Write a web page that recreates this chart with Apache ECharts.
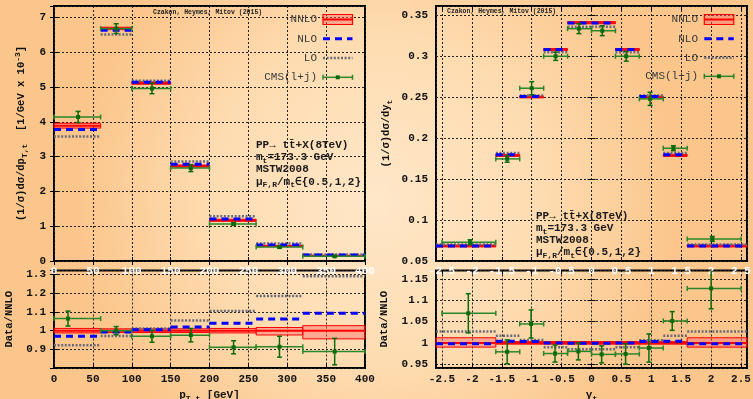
<!DOCTYPE html>
<html><head><meta charset="utf-8">
<script src="https://cdn.jsdelivr.net/npm/echarts@6/dist/echarts.min.js"></script>
<style>html,body{margin:0;padding:0;background:#fddcb0;} #c{width:753px;height:399px;}</style>
</head><body><div id="c"></div>
<script>
// ---------- pT panel (top-left) ----------
const ptEdges = [0, 60, 100, 150, 200, 260, 320, 400];
const ptTicks = [0, 50, 100, 150, 200, 250, 300, 350, 400];
const ptNnlo = [3.89, 6.69, 5.12, 2.73, 1.17, 0.43, 0.153];
const ptNnloLo = [3.82, 6.65, 5.08, 2.70, 1.14, 0.415, 0.145];
const ptNnloHi = [3.96, 6.72, 5.15, 2.76, 1.20, 0.45, 0.162];
const ptNlo = [3.78, 6.63, 5.14, 2.78, 1.21, 0.46, 0.17];
const ptLo = [3.58, 6.51, 5.18, 2.86, 1.285, 0.50, 0.19];
const ptCmsX = [31, 80, 126, 176, 231, 290, 361];
const ptCms = [4.14, 6.68, 4.96, 2.67, 1.065, 0.40, 0.135];
const ptCmsErr = [0.16, 0.14, 0.15, 0.10, 0.04, 0.03, 0.015];
// ---------- pT ratio panel (bottom-left) ----------
const ptRatioNnlo = [1, 1, 1, 1, 1, 1, 1];
const ptRatioNnloLo = [0.988, 0.99, 0.99, 0.99, 0.988, 0.977, 0.956];
const ptRatioNnloHi = [1.012, 1.01, 1.01, 1.01, 1.012, 1.017, 1.027];
const ptRatioNlo = [0.97, 0.993, 1.005, 1.02, 1.04, 1.062, 1.093];
const ptRatioLo = [0.922, 0.972, 1.012, 1.055, 1.106, 1.186, 1.292];
const ptRatioCmsX = [18, 80, 126, 176, 231, 290, 361];
const ptRatioCms = [1.065, 1.0, 0.97, 0.976, 0.911, 0.914, 0.888];
const ptRatioCmsErr = [0.04, 0.022, 0.032, 0.036, 0.035, 0.056, 0.071];
// ---------- rapidity panel (top-right) ----------
const yTheoryEdges = [-2.6, -1.6, -1.2, -0.8, -0.4, 0, 0.4, 0.8, 1.2, 1.6, 2.6];
const yCmsEdges = [-2.5, -1.6, -1.2, -0.8, -0.4, 0, 0.4, 0.8, 1.2, 1.6, 2.5];
const yNnlo = [0.0684, 0.179, 0.2503, 0.3083, 0.341, 0.341, 0.3083, 0.2503, 0.179, 0.0684];
const yNnloLo = [0.0672, 0.1778, 0.2492, 0.3072, 0.3398, 0.3398, 0.3072, 0.2492, 0.1778, 0.0672];
const yNnloHi = [0.0696, 0.1802, 0.2514, 0.3094, 0.3422, 0.3422, 0.3094, 0.2514, 0.1802, 0.0696];
const yNlo = [0.0683, 0.1797, 0.2509, 0.3083, 0.3407, 0.3407, 0.3083, 0.2509, 0.1797, 0.0683];
const yLo = [0.0702, 0.182, 0.252, 0.305, 0.336, 0.336, 0.305, 0.252, 0.182, 0.0702];
const yCmsX = [-2.03, -1.41, -1.0, -0.6, -0.21, 0.18, 0.58, 0.98, 1.37, 2.02];
const yCms = [0.0729, 0.1747, 0.261, 0.300, 0.3337, 0.3312, 0.300, 0.248, 0.1877, 0.077];
const yCmsErr = [0.003, 0.004, 0.008, 0.005, 0.006, 0.006, 0.006, 0.008, 0.003, 0.003];
// ---------- rapidity ratio panel (bottom-right) ----------
const yRatioNnlo = [1, 1, 1, 1, 1, 1, 1, 1, 1, 1];
const yRatioNnloLo = [0.99, 0.997, 0.997, 0.997, 0.997, 0.997, 0.997, 0.997, 0.997, 0.99];
const yRatioNnloHi = [1.012, 1.003, 1.003, 1.003, 1.003, 1.003, 1.003, 1.003, 1.003, 1.012];
const yRatioNlo = [0.998, 1.004, 1.003, 1.0, 0.999, 0.999, 1.0, 1.003, 1.004, 0.998];
const yRatioLo = [1.027, 1.017, 1.007, 0.99, 0.985, 0.985, 0.99, 1.006, 1.017, 1.027];
const yRatioCmsX = [-2.06, -1.41, -1.01, -0.61, -0.22, 0.17, 0.57, 0.96, 1.35, 2.0];
const yRatioCms = [1.0695, 0.979, 1.0445, 0.975, 0.98, 0.973, 0.974, 0.988, 1.0515, 1.128];
const yRatioCmsErr = [0.046, 0.028, 0.033, 0.02, 0.02, 0.02, 0.024, 0.033, 0.022, 0.048];

const FONT = '"Liberation Mono", "DejaVu Sans Mono", monospace';
const RICH = {
  s: {fontSize: 8, lineHeight: 8, verticalAlign: 'bottom', fontFamily: FONT, fontWeight: 'bold'},
  u: {fontSize: 8, lineHeight: 8, verticalAlign: 'top', fontFamily: FONT, fontWeight: 'bold'}
};
const GREEN = '#2a862a';

function isMult(v, step) { const k = v / step; return Math.abs(k - Math.round(k)) < 1e-6; }
function fmtNum(v) { return String(parseFloat(v.toFixed(3))); }

const gridBase = {show: true, borderColor: '#000', borderWidth: 2, backgroundColor: 'transparent', containLabel: false, outerBoundsMode: 'none'};
const grids = [
  Object.assign({left: 54, top: 6, width: 311, height: 255}, gridBase),
  Object.assign({left: 54, top: 270.5, width: 311, height: 97.5}, gridBase),
  Object.assign({left: 436, top: 6, width: 311, height: 255}, gridBase),
  Object.assign({left: 436, top: 270.5, width: 311, height: 97.5}, gridBase)
];

const split = {show: true, lineStyle: {color: '#222', width: 1, type: [2, 2]}};
const tick = {show: true, inside: true, length: 4, lineStyle: {color: '#000', width: 1}};

function xAx(gi, min, max, interval, step, lim, white, name) {
  const a = {
    type: 'value', gridIndex: gi, min, max, position: 'bottom',
    axisLine: {show: false}, axisTick: tick, splitLine: split,
    axisLabel: {
      color: white ? '#ffffff' : '#111', fontFamily: FONT, fontWeight: 'bold', fontSize: 11, margin: white ? 5 : 6,
      formatter: v => (isMult(v, step) && Math.abs(v) <= lim + 1e-9) ? fmtNum(v) : ''
    }
  };
  if (interval) a.interval = interval; else a.splitNumber = 10;
  if (name) {
    a.name = name; a.nameLocation = 'middle'; a.nameGap = 20;
    a.nameTextStyle = {color: '#111', fontFamily: FONT, fontWeight: 'bold', fontSize: 11, lineHeight: 15, rich: RICH};
  }
  return a;
}
function yAx(gi, min, max, interval, splitNumber, step, lo, hi, name, gap) {
  const a = {
    type: 'value', gridIndex: gi, min, max, position: 'left',
    axisLine: {show: false}, axisTick: tick, splitLine: split,
    axisLabel: {
      color: '#111', fontFamily: FONT, fontWeight: 'bold', fontSize: 11, margin: 8,
      formatter: v => (isMult(v, step) && v >= lo - 1e-9 && v <= hi + 1e-9) ? fmtNum(v) : ''
    },
    name, nameLocation: 'middle', nameGap: gap, nameRotate: 90,
    nameTextStyle: {color: '#111', fontFamily: FONT, fontWeight: 'bold', fontSize: 10.5, lineHeight: 15, rich: RICH}
  };
  if (interval) a.interval = interval; else a.splitNumber = splitNumber;
  return a;
}
function mirrorX(gi, min, max, interval) {
  const a = {type: 'value', gridIndex: gi, min, max, position: 'top', axisLine: {show: false}, axisLabel: {show: false}, splitLine: {show: false}, axisTick: tick};
  if (interval) a.interval = interval; else a.splitNumber = 10;
  return a;
}
function mirrorY(gi, min, max, interval, splitNumber) {
  const a = {type: 'value', gridIndex: gi, min, max, position: 'right', axisLine: {show: false}, axisLabel: {show: false}, splitLine: {show: false}, axisTick: tick};
  if (interval) a.interval = interval; else a.splitNumber = splitNumber;
  return a;
}

const xAxes = [
  xAx(0, 0, 400, 50, 50, 400, true),
  xAx(1, 0, 400, 50, 50, 400, false, 'p{s|T,t} [GeV]'),
  xAx(2, -2.6, 2.6, null, 0.5, 2.5, true),
  xAx(3, -2.6, 2.6, null, 0.5, 2.5, false, 'y{s|t}'),
  mirrorX(0, 0, 400, 50), mirrorX(1, 0, 400, 50), mirrorX(2, -2.6, 2.6, null), mirrorX(3, -2.6, 2.6, null)
];
const yAxes = [
  yAx(0, 0, 7.33, 1, null, 1, 0, 7, '(1/σ)dσ/dp{s|T,t}  [1/GeV x 10{u|-3}]', 25),
  yAx(1, 0.8, 1.3225, 0.1, null, 0.1, 0.9, 1.3, 'Data/NNLO', 37),
  yAx(2, 0.05, 0.3614, 0.05, null, 0.05, 0.05, 0.35, '(1/σ)dσ/dy{s|t}', 42),
  yAx(3, 0.941, 1.17, null, 5, 0.05, 0.95, 1.15, 'Data/NNLO', 44),
  mirrorY(0, 0, 7.33, 1), mirrorY(1, 0.8, 1.3225, 0.1), mirrorY(2, 0.05, 0.3614, 0.05), mirrorY(3, 0.941, 1.17, null, 5)
];

function clampX(cs, x) { return Math.max(cs.x, Math.min(cs.x + cs.width, x)); }
function clampY(cs, y) { return Math.max(cs.y, Math.min(cs.y + cs.height, y)); }

function nnloSeries(ai, edges, val, lo, hi) {
  return {
    type: 'custom', xAxisIndex: ai, yAxisIndex: ai, z: 2, silent: true,
    data: val.map((v, i) => [edges[i], edges[i + 1], v, lo[i], hi[i]]),
    encode: {x: [0, 1], y: [2, 3, 4]},
    renderItem: (params, api) => {
      const cs = params.coordSys;
      const a = api.coord([api.value(0), api.value(4)]);
      const b = api.coord([api.value(1), api.value(3)]);
      const c = api.coord([api.value(0), api.value(2)]);
      const x0 = clampX(cs, a[0]), x1 = clampX(cs, b[0]);
      return {type: 'group', children: [
        {type: 'rect', shape: {x: x0, y: a[1], width: x1 - x0, height: b[1] - a[1]},
         style: {fill: 'rgba(255,105,105,0.45)', stroke: '#ff0000', lineWidth: 1}},
        {type: 'line', shape: {x1: x0, y1: c[1], x2: x1, y2: c[1]}, style: {stroke: '#ff0000', lineWidth: 2}}
      ]};
    }
  };
}
function levelSeries(ai, edges, val, style, z) {
  return {
    type: 'custom', xAxisIndex: ai, yAxisIndex: ai, z, silent: true,
    data: val.map((v, i) => [edges[i], edges[i + 1], v]),
    encode: {x: [0, 1], y: [2]},
    renderItem: (params, api) => {
      const cs = params.coordSys;
      const a = api.coord([api.value(0), api.value(2)]);
      const b = api.coord([api.value(1), api.value(2)]);
      return {type: 'line', shape: {x1: clampX(cs, a[0]), y1: a[1], x2: clampX(cs, b[0]), y2: b[1]}, style};
    }
  };
}
function cmsSeries(ai, edges, xs, val, err) {
  return {
    type: 'custom', xAxisIndex: ai, yAxisIndex: ai, z: 5, silent: true,
    data: val.map((v, i) => [edges[i], edges[i + 1], xs[i], v, err[i]]),
    encode: {x: [0, 1, 2], y: [3]},
    renderItem: (params, api) => {
      const cs = params.coordSys;
      const v = api.value(3), e = api.value(4), xc = api.value(2);
      const pL = api.coord([api.value(0), v]), pR = api.coord([api.value(1), v]);
      const pT = api.coord([xc, v + e]), pB = api.coord([xc, v - e]);
      const st = {stroke: GREEN, lineWidth: 1.5};
      const yT = clampY(cs, pT[1]), yB = clampY(cs, pB[1]);
      const ch = [
        {type: 'line', shape: {x1: pL[0], y1: pL[1], x2: pR[0], y2: pR[1]}, style: st},
        {type: 'line', shape: {x1: pL[0], y1: pL[1] - 2.5, x2: pL[0], y2: pL[1] + 2.5}, style: st},
        {type: 'line', shape: {x1: pR[0], y1: pR[1] - 2.5, x2: pR[0], y2: pR[1] + 2.5}, style: st},
        {type: 'line', shape: {x1: pT[0], y1: yT, x2: pB[0], y2: yB}, style: {stroke: '#0b6a0b', lineWidth: 1.5}},
        {type: 'rect', shape: {x: pT[0] - 2, y: pL[1] - 2, width: 4, height: 4}, style: {fill: '#0b6a0b'}}
      ];
      if (yT === pT[1]) ch.push({type: 'line', shape: {x1: pT[0] - 2.5, y1: yT, x2: pT[0] + 2.5, y2: yT}, style: {stroke: '#0b6a0b', lineWidth: 1.5}});
      if (yB === pB[1]) ch.push({type: 'line', shape: {x1: pB[0] - 2.5, y1: yB, x2: pB[0] + 2.5, y2: yB}, style: {stroke: '#0b6a0b', lineWidth: 1.5}});
      return {type: 'group', children: ch};
    }
  };
}

const NLO_STYLE = {stroke: '#0000ff', lineWidth: 3, lineDash: [7, 5]};
const LO_STYLE = {stroke: '#6b6b78', lineWidth: 2.5, lineDash: [2, 1.6]};

const series = [
  nnloSeries(0, ptEdges, ptNnlo, ptNnloLo, ptNnloHi),
  levelSeries(0, ptEdges, ptLo, LO_STYLE, 3),
  levelSeries(0, ptEdges, ptNlo, NLO_STYLE, 4),
  cmsSeries(0, ptEdges, ptCmsX, ptCms, ptCmsErr),
  nnloSeries(1, ptEdges, ptRatioNnlo, ptRatioNnloLo, ptRatioNnloHi),
  levelSeries(1, ptEdges, ptRatioLo, LO_STYLE, 3),
  levelSeries(1, ptEdges, ptRatioNlo, NLO_STYLE, 4),
  cmsSeries(1, ptEdges, ptRatioCmsX, ptRatioCms, ptRatioCmsErr),
  nnloSeries(2, yTheoryEdges, yNnlo, yNnloLo, yNnloHi),
  levelSeries(2, yTheoryEdges, yLo, LO_STYLE, 3),
  levelSeries(2, yTheoryEdges, yNlo, NLO_STYLE, 4),
  cmsSeries(2, yCmsEdges, yCmsX, yCms, yCmsErr),
  nnloSeries(3, yTheoryEdges, yRatioNnlo, yRatioNnloLo, yRatioNnloHi),
  levelSeries(3, yTheoryEdges, yRatioLo, LO_STYLE, 3),
  levelSeries(3, yTheoryEdges, yRatioNlo, NLO_STYLE, 4),
  cmsSeries(3, yCmsEdges, yRatioCmsX, yRatioCms, yRatioCmsErr)
];

// ---------- texts & legend (graphic) ----------
const annoLines = ['PP→ tt\u0304+X(8TeV)', 'm{s|t}=173.3 GeV', 'MSTW2008', 'μ{s|F,R}/m{s|t}∈{0.5,1,2}'];
const legendLabels = ['NNLO', 'NLO', 'LO', 'CMS(l+j)'];
const author = 'Czakon, Heymes, Mitov (2015)';

function txt(x, y, text, opt) {
  return {type: 'text', x, y, z: 100, silent: true, style: Object.assign({
    text, fill: '#1a1a1a', font: 'bold 11px ' + FONT, align: 'left', verticalAlign: 'middle', lineHeight: 15, rich: RICH
  }, opt || {})};
}
function legend(xText, xIcon, ys) {
  const g = [];
  legendLabels.forEach((t, i) => g.push(txt(xText, ys[i], t, {align: 'right', fill: '#3a3a3a', font: 'normal 11px ' + FONT})));
  const w = 29.5;
  g.push({type: 'rect', z: 100, shape: {x: xIcon, y: ys[0] - 5, width: w, height: 10}, style: {fill: 'rgba(255,105,105,0.45)', stroke: '#ff0000', lineWidth: 1.2}});
  g.push({type: 'line', z: 100, shape: {x1: xIcon, y1: ys[0], x2: xIcon + w, y2: ys[0]}, style: {stroke: '#ff0000', lineWidth: 2}});
  g.push({type: 'line', z: 100, shape: {x1: xIcon, y1: ys[1], x2: xIcon + w, y2: ys[1]}, style: NLO_STYLE});
  g.push({type: 'line', z: 100, shape: {x1: xIcon, y1: ys[2], x2: xIcon + w, y2: ys[2]}, style: LO_STYLE});
  const st = {stroke: GREEN, lineWidth: 1.5};
  g.push({type: 'line', z: 100, shape: {x1: xIcon, y1: ys[3], x2: xIcon + w, y2: ys[3]}, style: st});
  g.push({type: 'line', z: 100, shape: {x1: xIcon, y1: ys[3] - 2.5, x2: xIcon, y2: ys[3] + 2.5}, style: st});
  g.push({type: 'line', z: 100, shape: {x1: xIcon + w, y1: ys[3] - 2.5, x2: xIcon + w, y2: ys[3] + 2.5}, style: st});
  g.push({type: 'rect', z: 100, shape: {x: xIcon + w / 2 - 2, y: ys[3] - 2, width: 4, height: 4}, style: {fill: '#0b6a0b'}});
  return g;
}

const graphics = [].concat(
  [txt(153, 12, author, {font: 'bold 6.5px ' + FONT, fill: '#222'}),
   txt(447, 11.5, author, {font: 'bold 6.5px ' + FONT, fill: '#222'})],
  annoLines.map((t, i) => txt(256, 145 + i * 12.3, t)),
  annoLines.map((t, i) => txt(536, 216 + i * 12.2, t)),
  legend(317, 323, [19.5, 38.7, 58, 77.3]),
  legend(698, 704.3, [19.5, 38.7, 57.7, 76.3])
);

const chart = echarts.init(document.getElementById('c'), null, {renderer: 'canvas'});
chart.setOption({
  animation: false,
  backgroundColor: {type: 'radial', x: 0.5, y: 0.5, r: 0.75, colorStops: [
    {offset: 0, color: '#ffe7c8'}, {offset: 0.55, color: '#fedcb1'}, {offset: 1, color: '#fbc68c'}]},
  grid: grids,
  xAxis: xAxes,
  yAxis: yAxes,
  series,
  graphic: graphics
});
</script></body></html>
